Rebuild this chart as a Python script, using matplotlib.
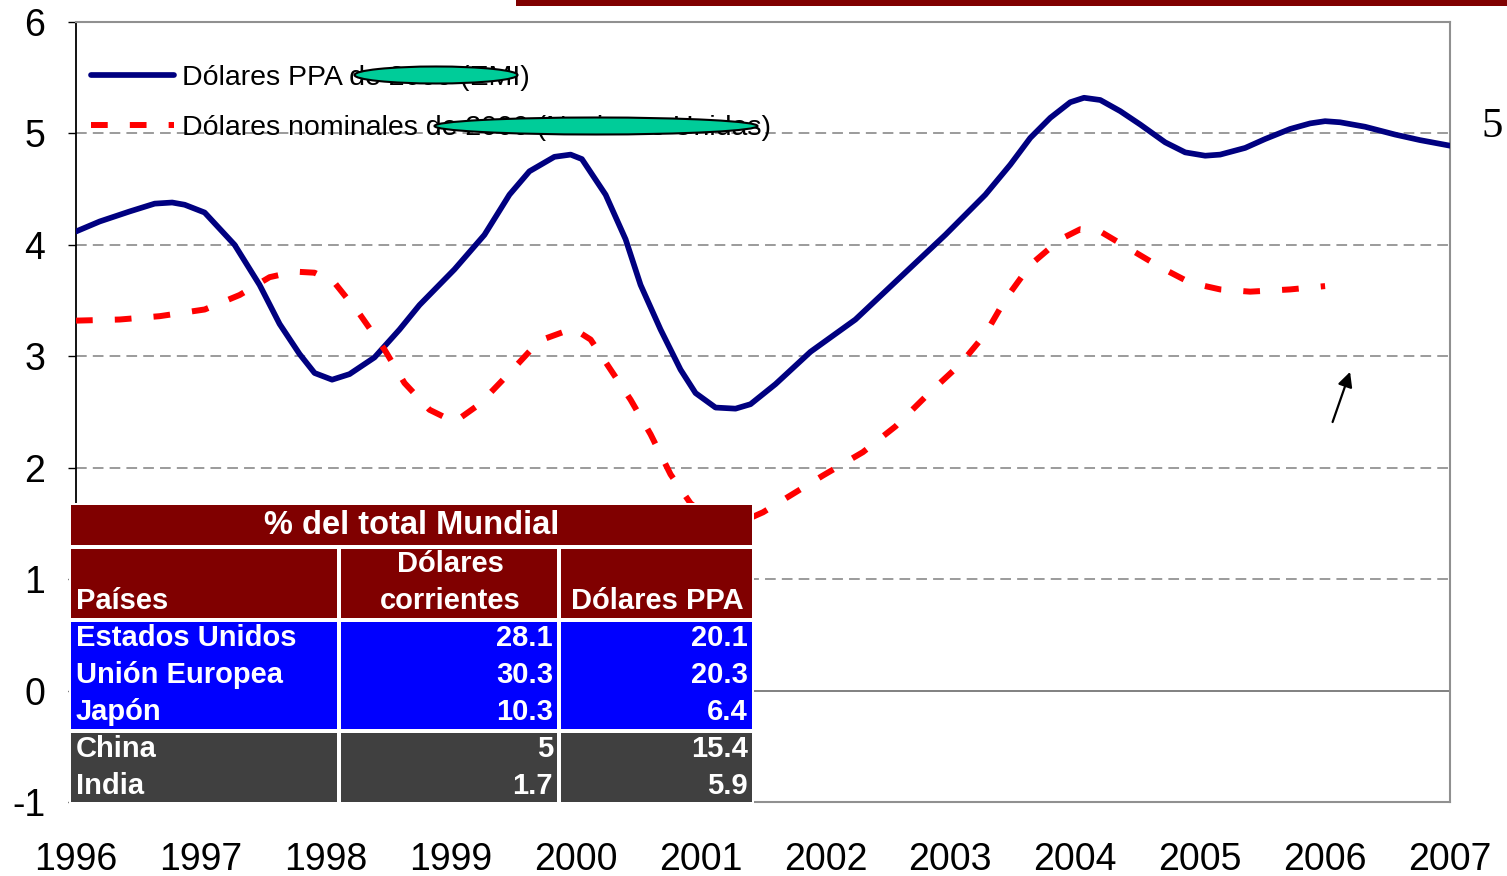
import matplotlib
matplotlib.use('Agg')
import matplotlib.pyplot as plt
from matplotlib import font_manager
from matplotlib.patches import Rectangle, Ellipse
import numpy as np

# ---------------- data ----------------
ppa_x = [1996.0, 1996.19, 1996.43, 1996.63, 1996.77, 1996.87, 1997.03, 1997.27, 1997.47,
         1997.63, 1997.79, 1997.91, 1998.05, 1998.19, 1998.39, 1998.59, 1998.75, 1999.03,
         1999.27, 1999.47, 1999.63, 1999.83, 1999.96, 2000.05, 2000.24, 2000.40, 2000.52,
         2000.68, 2000.84, 2000.96, 2001.12, 2001.28, 2001.40, 2001.60, 2001.88, 2002.24,
         2002.60, 2002.96, 2003.28, 2003.48, 2003.64, 2003.80, 2003.96, 2004.07, 2004.20,
         2004.36, 2004.52, 2004.72, 2004.88, 2005.04, 2005.16, 2005.36, 2005.52, 2005.72,
         2005.88, 2006.00, 2006.12, 2006.32, 2006.56, 2006.76, 2007.00]
ppa_y = [4.12, 4.21, 4.30, 4.37, 4.38, 4.36, 4.29, 4.00, 3.64,
         3.29, 3.02, 2.85, 2.79, 2.84, 2.99, 3.24, 3.46, 3.78,
         4.09, 4.45, 4.66, 4.79, 4.81, 4.77, 4.45, 4.05, 3.64,
         3.24, 2.88, 2.67, 2.54, 2.53, 2.57, 2.75, 3.04, 3.33,
         3.71, 4.09, 4.45, 4.72, 4.96, 5.14, 5.28, 5.32, 5.30,
         5.20, 5.08, 4.92, 4.83, 4.80, 4.81, 4.87, 4.95, 5.04,
         5.09, 5.11, 5.10, 5.06, 4.99, 4.94, 4.89]

nom_x = [1996.0, 1996.35, 1996.67, 1997.03, 1997.31, 1997.55, 1997.75, 1997.91, 1998.07,
         1998.27, 1998.47, 1998.63, 1998.83, 1999.03, 1999.23, 1999.47, 1999.71, 1999.98,
         2000.12, 2000.28, 2000.44, 2000.60, 2000.76, 2000.92, 2001.10, 2001.30, 2001.50,
         2001.66, 2001.98, 2002.30, 2002.56, 2002.84, 2003.08, 2003.28, 2003.44, 2003.64,
         2003.88, 2004.04, 2004.20, 2004.44, 2004.68, 2004.92, 2005.16, 2005.40, 2005.72,
         2006.00]
nom_y = [3.32, 3.33, 3.36, 3.42, 3.55, 3.71, 3.76, 3.75, 3.66,
         3.38, 3.06, 2.76, 2.52, 2.41, 2.57, 2.85, 3.14, 3.25,
         3.15, 2.88, 2.61, 2.30, 1.94, 1.68, 1.52, 1.50, 1.60,
         1.71, 1.93, 2.14, 2.37, 2.68, 2.93, 3.20, 3.51, 3.82,
         4.05, 4.14, 4.12, 3.96, 3.80, 3.66, 3.60, 3.58, 3.60,
         3.63]

legend_labels = ["Dólares PPA de 2000 (EMI)", "Dólares nominales de 2000 (Naciones Unidas)"]
year_ticks = list(range(1996, 2008))
y_ticks = [-1, 0, 1, 2, 3, 4, 5, 6]

table_title = "% del total Mundial"
table_header = ["Países", "Dólares", "corrientes", "Dólares PPA"]
countries = ["Estados Unidos", "Unión Europea", "Japón", "China", "India"]
corrientes = ["28.1", "30.3", "10.3", "5", "1.7"]
ppa_share = ["20.1", "20.3", "6.4", "15.4", "5.9"]

# ---------------- fonts ----------------
names = {f.name for f in font_manager.fontManager.ttflist}
if 'Liberation Sans Narrow' in names:
    NARROW = 'Liberation Sans Narrow'
    tick_fs, leg_fs = 30, 25
else:
    NARROW = 'Liberation Sans'
    tick_fs, leg_fs = 27, 20.5
plt.rcParams['font.family'] = [NARROW, 'DejaVu Sans']

W, H = 1507, 876
fig = plt.figure(figsize=(W / 100, H / 100), dpi=100)
fig.patch.set_facecolor('white')

def fx(px):
    return px / W

def fy(py):
    return 1 - py / H

ax = fig.add_axes([fx(76), fy(802), fx(1450) - fx(76), fy(22) - fy(802)])
ax.set_xlim(1996, 2007)
ax.set_ylim(-1, 6)

# grid lines
for v in [1, 2, 3, 4, 5]:
    ax.axhline(v, color='#808080', lw=1.1, dashes=(7, 4), zorder=1)
ax.axhline(0, color='#808080', lw=1.4, zorder=1)

l1, = ax.plot(ppa_x, ppa_y, color='#000080', lw=4.1, solid_capstyle='round',
              solid_joinstyle='round', zorder=3)
l2, = ax.plot(nom_x, nom_y, color='#FF0000', lw=4.3, dashes=(2.8, 3.7), zorder=3)

for s in ['top', 'right', 'bottom']:
    ax.spines[s].set_color('#909090')
    ax.spines[s].set_linewidth(1.5)
ax.spines['left'].set_color('#000000')
ax.spines['left'].set_linewidth(1.3)

ax.set_yticks(y_ticks)
ax.set_yticklabels([str(v) for v in y_ticks])
ax.set_xticks(year_ticks)
ax.set_xticklabels([str(v) for v in year_ticks])
ax.tick_params(axis='y', length=6, width=1, color='#000000', pad=16, labelsize=tick_fs)
ax.tick_params(axis='x', length=0, pad=29, labelsize=tick_fs)

ax_w = 1450 - 76
ax_h = 802 - 22
leg = ax.legend([l1, l2], legend_labels, loc='upper left', frameon=False,
                fontsize=leg_fs, handlelength=2.9, handletextpad=0.3,
                labelspacing=0.82, borderaxespad=0.0,
                bbox_to_anchor=((80 - 76) / ax_w, 1 - (54 - 22) / ax_h))

# arrow annotation
ax.annotate('', xy=(2006.20, 2.86), xytext=(2006.06, 2.41),
            arrowprops=dict(arrowstyle='-|>', color='black', lw=1.6,
                            mutation_scale=22, shrinkA=0, shrinkB=0), zorder=4)

# overlay elements (figure coordinates)
fig.add_artist(Rectangle((fx(516), fy(6)), 1 - fx(516), fy(0) - fy(6),
                         transform=fig.transFigure, color='#800000', lw=0, zorder=5))
fig.text(fx(1492), fy(127), '5', fontsize=31, family='Liberation Serif',
         ha='center', va='center')

for cx, cy, w, h in [(436, 75, 163, 17), (596, 126, 323, 17)]:
    fig.add_artist(Ellipse((fx(cx), fy(cy)), w / W, h / H, transform=fig.transFigure,
                           facecolor='#00CC99', edgecolor='black', lw=1.5, zorder=6))

# table
dark_red = '#800000'
blue = '#0000FF'
grey = '#404040'
tf = 'Liberation Sans'
tfs = 21

def rect(x0, y0, x1, y1, c):
    fig.add_artist(Rectangle((fx(x0), fy(y1)), fx(x1) - fx(x0), fy(y0) - fy(y1),
                             transform=fig.transFigure, facecolor=c, lw=0, zorder=7))

def txt(x, y, s, ha, size=tfs):
    fig.text(fx(x), fy(y), s, color='white', fontsize=size, fontweight='bold',
             family=tf, ha=ha, va='center', zorder=8)

fig.add_artist(Rectangle((fx(69), fy(804)), fx(754) - fx(69), fy(503) - fy(804),
                         transform=fig.transFigure, facecolor='white', lw=0, zorder=6.5))
rect(71, 505, 752, 545, dark_red)
cols = [(71, 337), (341, 557), (561, 752)]
for c0, c1 in cols:
    rect(c0, 549, c1, 618, dark_red)
    rect(c0, 622, c1, 729, blue)
    rect(c0, 733, c1, 802, grey)

txt(412, 525, table_title, 'center', 23.5)
txt(76, 601, table_header[0], 'left')
txt(450, 564, table_header[1], 'center')
txt(450, 601, table_header[2], 'center')
txt(657, 601, table_header[3], 'center')
row_y = [638, 675, 712, 749, 786]
for i, yy in enumerate(row_y):
    txt(76, yy, countries[i], 'left')
    txt(553, yy, corrientes[i], 'right')
    txt(748, yy, ppa_share[i], 'right')

fig.savefig('out.png', dpi=100, facecolor='white')
